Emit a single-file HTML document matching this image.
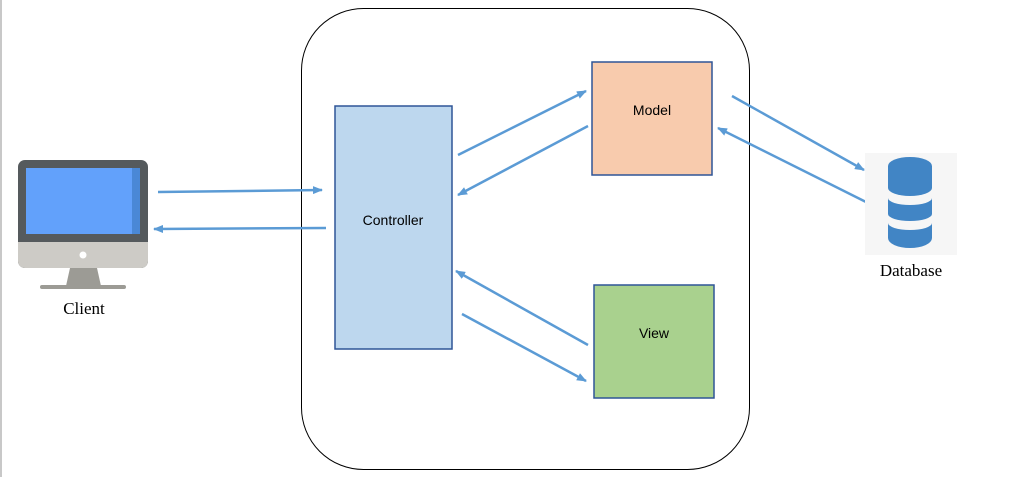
<!DOCTYPE html>
<html><head><style>
body{margin:0;background:#fff;}
svg{display:block}
</style></head><body>
<svg width="1018" height="477" viewBox="0 0 1018 477" xmlns="http://www.w3.org/2000/svg">
<defs>
<marker id="a" markerWidth="10" markerHeight="8" refX="9" refY="4" orient="auto" markerUnits="userSpaceOnUse">
<path d="M0,0 L10,4 L0,8 Z" fill="#5b9bd5"/>
</marker>
</defs>
<line x1="1" y1="0" x2="1" y2="477" stroke="#c8c8c8" stroke-width="2"/>
<rect x="301.5" y="8.5" width="448" height="461" rx="62" fill="#fff" stroke="#000" stroke-width="1"/>
<rect x="335" y="106" width="117" height="243" fill="#bdd7ee" stroke="#2f5597" stroke-width="1.5"/>
<text x="393" y="225" font-family="Liberation Sans, sans-serif" font-size="14" text-anchor="middle">Controller</text>
<rect x="592" y="62" width="120" height="113" fill="#f8cbad" stroke="#2f5597" stroke-width="1.5"/>
<text x="652" y="115" font-family="Liberation Sans, sans-serif" font-size="14" text-anchor="middle">Model</text>
<rect x="594" y="285" width="120" height="113" fill="#a9d18e" stroke="#2f5597" stroke-width="1.5"/>
<text x="654" y="338" font-family="Liberation Sans, sans-serif" font-size="14" text-anchor="middle">View</text>
<g stroke="#5b9bd5" stroke-width="2.5" marker-end="url(#a)">
<line x1="158" y1="192" x2="322" y2="190"/>
<line x1="326" y1="228" x2="154" y2="229"/>
<line x1="458" y1="155" x2="586" y2="91"/>
<line x1="588" y1="126" x2="458" y2="195"/>
<line x1="588" y1="345" x2="456" y2="271"/>
<line x1="462" y1="314" x2="586" y2="381"/>
<line x1="732" y1="96" x2="864" y2="170"/>
<line x1="872" y1="205" x2="718" y2="128"/>
</g>
<!-- monitor -->
<rect x="18" y="160" width="130" height="108" rx="7" fill="#555a5d"/>
<path d="M18,242 h130 v19 a7,7 0 0 1 -7,7 h-116 a7,7 0 0 1 -7,-7z" fill="#cdcbc6"/>
<rect x="26" y="168" width="114" height="66" fill="#62a1fb"/>
<rect x="132" y="168" width="8" height="66" fill="#4a88d6"/>
<circle cx="83" cy="255" r="3.5" fill="#fff"/>
<path d="M70,268 h27 l4,18 h-35z" fill="#9c9b95"/>
<rect x="40" y="285" width="86" height="4" rx="2" fill="#9c9b95"/>
<text x="84" y="314" font-family="Liberation Serif, serif" font-size="17" text-anchor="middle">Client</text>
<!-- database -->
<rect x="865" y="153" width="92" height="102" fill="#f6f6f6"/>
<g fill="#4185c5">
<path d="M888,166 a22,9 0 0 1 44,0 v22 a22,8 0 0 1 -44,0z"/>
<path d="M888,198 a22,7 0 0 0 44,0 v16 a22,7 0 0 1 -44,0z"/>
<path d="M888,223 a22,7 0 0 0 44,0 v15 a22,10 0 0 1 -44,0z"/>
</g>
<text x="911" y="276" font-family="Liberation Serif, serif" font-size="17" text-anchor="middle">Database</text>
</svg>
</body></html>
